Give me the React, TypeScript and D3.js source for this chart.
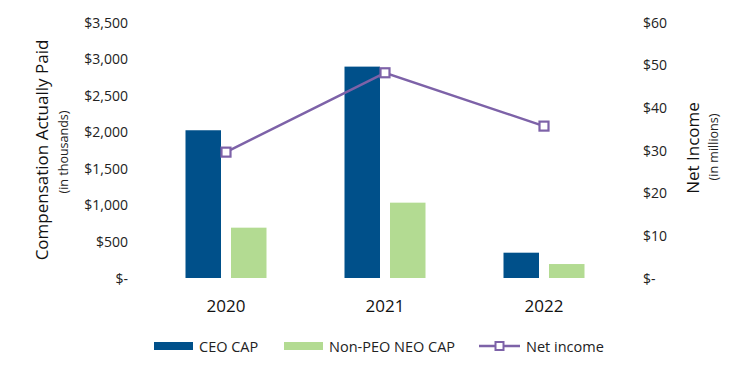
import React from "react";
import * as d3 from "d3";

const years = ["2020", "2021", "2022"];
const ceoCap = [2020, 2890, 346];
const nonPeoCap = [688, 1030, 191];
const netIncome = [29.5, 48.1, 35.6];
const leftTicks = [0, 500, 1000, 1500, 2000, 2500, 3000, 3500];
const rightTicks = [0, 10, 20, 30, 40, 50, 60];
const seriesNames = ["CEO CAP", "Non-PEO NEO CAP"];
const legendLabels = ["CEO CAP", "Non-PEO NEO CAP", "Net income"];

const COLORS = { ceo: "#00508A", non: "#B3DB92", line: "#7D62A8" };
const FONT = "'Open Sans', Lato, sans-serif";

export default function App() {
  const W = 750, H = 375;
  const top = 22, bottom = 278;
  const x0 = d3.scaleBand<string>().domain(years).range([146.5, 623.5]).padding(0);
  const yL = d3.scaleLinear().domain([0, 3500]).range([bottom, top]);
  const yR = d3.scaleLinear().domain([0, 60]).range([bottom, top]);
  const groupW = 81;
  const x1 = d3.scaleBand<string>().domain(seriesNames).range([0, groupW]).paddingInner(0.22);
  const center = (y: string) => (x0(y) as number) + x0.bandwidth() / 2;
  const fmtL = (v: number) => (v === 0 ? "$-" : "$" + d3.format(",")(v));
  const fmtR = (v: number) => (v === 0 ? "$-" : "$" + v);
  const line = d3
    .line<number>()
    .x((_, i) => center(years[i]))
    .y((d) => yR(d));
  const seriesVals = [ceoCap, nonPeoCap];
  const seriesCols = [COLORS.ceo, COLORS.non];

  return (
    <svg width={W} height={H} style={{ position: "absolute", left: 0, top: 0, background: "#fff" }} fontFamily={FONT}>
      {leftTicks.map((t) => (
        <text key={"l" + t} x={128} y={yL(t)} textAnchor="end" dominantBaseline="central" fontSize={14} fill="#222">
          {fmtL(t)}
        </text>
      ))}
      {rightTicks.map((t) => (
        <text key={"r" + t} x={643} y={yR(t)} textAnchor="start" dominantBaseline="central" fontSize={14} fill="#222">
          {fmtR(t)}
        </text>
      ))}
      <text transform="translate(41,150) rotate(-90)" textAnchor="middle" dominantBaseline="central" fontSize={17} fill="#111">
        Compensation Actually Paid
      </text>
      <text transform="translate(63,152) rotate(-90)" textAnchor="middle" dominantBaseline="central" fontSize={12.5} fill="#222">
        (in  thousands)
      </text>
      <text transform="translate(692,148) rotate(-90)" textAnchor="middle" dominantBaseline="central" fontSize={17} fontWeight={500} fill="#111">
        Net Income
      </text>
      <text transform="translate(713,147) rotate(-90)" textAnchor="middle" dominantBaseline="central" fontSize={12.5} fill="#222">
        (in millions)
      </text>
      {years.map((yr, i) => (
        <g key={yr} transform={`translate(${center(yr) - groupW / 2},0)`}>
          {seriesNames.map((s, j) => (
            <rect
              key={s}
              x={x1(s)}
              y={yL(seriesVals[j][i])}
              width={x1.bandwidth()}
              height={bottom - yL(seriesVals[j][i])}
              fill={seriesCols[j]}
            />
          ))}
        </g>
      ))}
      <path d={line(netIncome) || ""} fill="none" stroke={COLORS.line} strokeWidth={2.5} />
      {netIncome.map((v, i) => (
        <rect key={i} x={center(years[i]) - 4.5} y={yR(v) - 4.5} width={9} height={9} fill="#fff" stroke={COLORS.line} strokeWidth={2.2} />
      ))}
      {years.map((yr) => (
        <text key={"x" + yr} x={center(yr)} y={305} textAnchor="middle" dominantBaseline="central" fontSize={17} fill="#111">
          {yr}
        </text>
      ))}
      <g fontSize={14.5} fill="#222">
        <rect x={154} y={342} width={39} height={8} fill={COLORS.ceo} />
        <text x={199} y={346} dominantBaseline="central">{legendLabels[0]}</text>
        <rect x={284} y={342} width={39} height={8} fill={COLORS.non} />
        <text x={329} y={346} dominantBaseline="central">{legendLabels[1]}</text>
        <line x1={479} x2={520} y1={346} y2={346} stroke={COLORS.line} strokeWidth={2.5} />
        <rect x={495.5} y={342} width={8} height={8} fill="#fff" stroke={COLORS.line} strokeWidth={2} />
        <text x={526} y={346} dominantBaseline="central">{legendLabels[2]}</text>
      </g>
    </svg>
  );
}
